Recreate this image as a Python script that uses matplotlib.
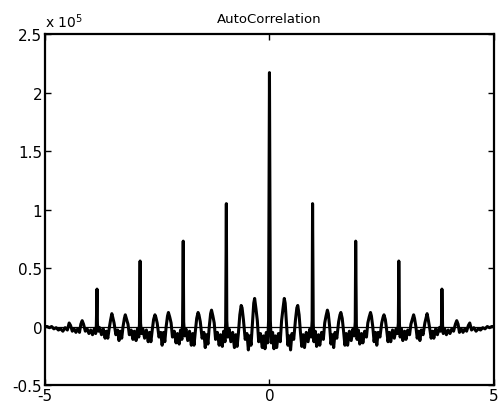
import numpy as np
import matplotlib
matplotlib.use('Agg')
import matplotlib.pyplot as plt

# autocorrelation, positive lags only (units of 1e5)
lag_p0 = [0.00, 0.02, 0.04, 0.07, 0.10, 0.13, 0.16, 0.20, 0.24, 0.27, 0.30, 0.33, 0.35, 0.38, 0.41, 0.44,
          0.47, 0.50, 0.54, 0.58, 0.61, 0.63, 0.66, 0.69, 0.72, 0.75, 0.78, 0.82, 0.86, 0.90, 0.93, 0.95]
val_p0 = [2.17, 0.05, -0.14, -0.05, -0.19, -0.08, -0.18, -0.06, -0.13, 0.05, 0.15, 0.24, 0.20, 0.02, -0.16, -0.08,
          -0.20, -0.06, -0.11, 0.06, 0.16, 0.18, 0.10, -0.05, -0.17, -0.07, -0.18, -0.05, -0.13, -0.02, -0.09, 0.05]

lag_p1 = [0.96, 0.975, 0.99, 1.02, 1.05, 1.09, 1.12, 1.16, 1.20, 1.23, 1.26, 1.29, 1.31, 1.34, 1.37, 1.40,
          1.43, 1.46, 1.50, 1.54, 1.57, 1.59, 1.62, 1.65, 1.68, 1.71, 1.74, 1.78, 1.82, 1.86, 1.89, 1.91]
val_p1 = [1.05, 0.03, -0.13, -0.04, -0.17, -0.07, -0.16, -0.05, -0.11, 0.03, 0.09, 0.14, 0.11, 0.00, -0.15, -0.07,
          -0.18, -0.05, -0.10, 0.04, 0.10, 0.12, 0.07, -0.04, -0.16, -0.06, -0.16, -0.04, -0.12, -0.02, -0.08, 0.04]

lag_p2 = [1.92, 1.935, 1.95, 1.98, 2.01, 2.05, 2.08, 2.12, 2.16, 2.19, 2.22, 2.25, 2.27, 2.30, 2.33, 2.36,
          2.39, 2.42, 2.46, 2.50, 2.53, 2.55, 2.58, 2.61, 2.64, 2.67, 2.70, 2.74, 2.78, 2.82, 2.85, 2.87]
val_p2 = [0.73, 0.02, -0.11, -0.03, -0.15, -0.06, -0.14, -0.04, -0.09, 0.03, 0.08, 0.12, 0.09, 0.00, -0.13, -0.05,
          -0.16, -0.05, -0.09, 0.03, 0.08, 0.10, 0.06, -0.03, -0.13, -0.05, -0.13, -0.03, -0.10, -0.02, -0.06, 0.03]

lag_p3 = [2.88, 2.895, 2.91, 2.94, 2.97, 3.01, 3.04, 3.08, 3.12, 3.15, 3.18, 3.21, 3.23, 3.26, 3.29, 3.32,
          3.35, 3.38, 3.42, 3.46, 3.49, 3.51, 3.54, 3.57, 3.60, 3.63, 3.66, 3.70, 3.74, 3.78, 3.81, 3.83]
val_p3 = [0.56, 0.02, -0.09, -0.02, -0.12, -0.04, -0.11, -0.03, -0.07, 0.02, 0.06, 0.10, 0.07, 0.00, -0.10, -0.04,
          -0.12, -0.03, -0.07, 0.03, 0.08, 0.11, 0.05, -0.02, -0.10, -0.04, -0.10, -0.02, -0.07, -0.01, -0.04, 0.02]

lag_tail = [3.84, 3.855, 3.87, 3.90, 3.94, 3.98, 4.02, 4.06, 4.10, 4.14, 4.17, 4.20, 4.23, 4.27, 4.31,
            4.35, 4.39, 4.43, 4.46, 4.50, 4.55, 4.60, 4.65, 4.70, 4.75, 4.80, 4.85, 4.90, 4.95, 5.00]
val_tail = [0.32, 0.01, -0.06, -0.02, -0.07, -0.03, -0.06, -0.02, -0.04, 0.02, 0.05, 0.02, -0.05, -0.02, -0.05,
            -0.02, -0.04, 0.01, 0.03, -0.03, -0.01, -0.04, -0.02, -0.03, -0.01, -0.02, 0.00, -0.01, 0.00, 0.00]

x_ticks = [-5, 0, 5]
y_ticks = [-0.5, 0, 0.5, 1, 1.5, 2, 2.5]

plt.rcParams['font.family'] = 'DejaVu Sans'
plt.rcParams['axes.unicode_minus'] = False

lag_pos = np.array(lag_p0 + lag_p1 + lag_p2 + lag_p3 + lag_tail)
val_pos = np.array(val_p0 + val_p1 + val_p2 + val_p3 + val_tail)

# autocorrelation is symmetric in lag
lags = np.concatenate((-lag_pos[::-1], lag_pos[1:]))
vals = np.concatenate((val_pos[::-1], val_pos[1:]))

fig = plt.figure(figsize=(4.99, 4.10), dpi=100)
ax = fig.add_axes([0.090, 0.0585, 0.900, 0.856])

ax.axhline(0, color='k', lw=0.9)
ax.plot(lags, vals, color='k', lw=2.2)

ax.set_xlim(-5, 5)
ax.set_ylim(-0.5, 2.5)
ax.set_xticks(x_ticks)
ax.set_xticklabels(['-5', '0', '5'])
ax.set_yticks(y_ticks)
ax.set_yticklabels(['-0.5', '0', '0.5', '1', '1.5', '2', '2.5'])
ax.tick_params(direction='in', top=True, right=True, length=4, width=1, labelsize=11, pad=2)
for s in ax.spines.values():
    s.set_linewidth(1.6)

ax.set_title('AutoCorrelation', fontsize=9.5, pad=9)
ax.text(0.0, 1.012, r'x 10$^5$', transform=ax.transAxes, fontsize=10, ha='left', va='bottom')

fig.savefig('out.png', dpi=100)
